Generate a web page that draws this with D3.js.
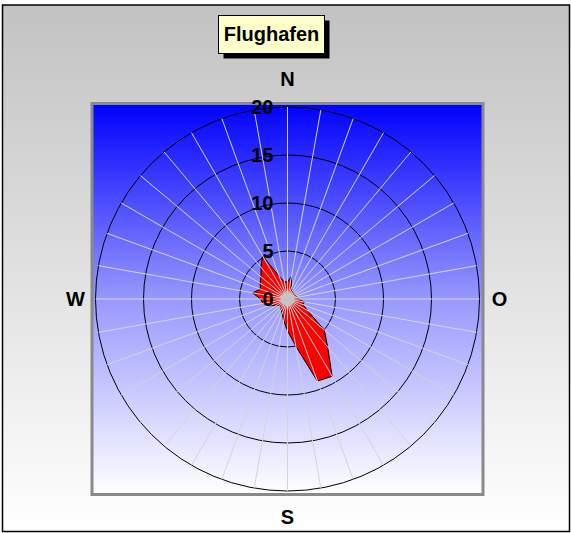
<!DOCTYPE html>
<html><head><meta charset="utf-8">
<script src="https://cdn.jsdelivr.net/npm/d3@7"></script>
<style>body{margin:0;background:#fff}svg{display:block}</style>
</head><body><div id="chart"></div>
<script>
const title = "Flughafen";
const directions = [0,10,20,30,40,50,60,70,80,90,100,110,120,130,140,150,160,170,180,190,200,210,220,230,240,250,260,270,280,290,300,310,320,330,340,350];
const values = [1.8,2.4,1.2,1.0,0.9,0.9,0.9,0.9,1.0,1.1,1.8,1.7,2.4,5.0,6.5,9.3,9.1,5.0,3.3,2.3,1.6,1.3,1.1,1.0,1.3,2.0,2.6,2.8,3.7,3.0,3.3,3.6,4.3,5.2,2.5,1.8];
const radialTicks = [0,5,10,15,20];
const gridCircles = [5,10,15,20];
const compass = [{label:"N",deg:0},{label:"O",deg:90},{label:"S",deg:180},{label:"W",deg:270}];

const W = 571, H = 533;
const svg = d3.select("#chart").append("svg").attr("width", W).attr("height", H);
const defs = svg.append("defs");
const g1 = defs.append("linearGradient").attr("id","outerG").attr("x1",0).attr("y1",0).attr("x2",0).attr("y2",1);
g1.append("stop").attr("offset",0).attr("stop-color","#c2c2c2");
g1.append("stop").attr("offset",1).attr("stop-color","#ffffff");
const g2 = defs.append("linearGradient").attr("id","plotG").attr("x1",0).attr("y1",0).attr("x2",0).attr("y2",1);
g2.append("stop").attr("offset",0).attr("stop-color","#0000ff");
g2.append("stop").attr("offset",0.5).attr("stop-color","#9898ff");
g2.append("stop").attr("offset",1).attr("stop-color","#ffffff");

svg.append("rect").attr("x",2.5).attr("y",5).attr("width",567).attr("height",526.5)
  .attr("fill","url(#outerG)").attr("stroke","#000").attr("stroke-width",1.5);

const cx = 287.5, cy = 299;
const R = 192;
const r = d3.scaleLinear().domain([0,20]).range([0,R]);
const ang = d3.scaleLinear().domain([0,360]).range([0,2*Math.PI]);

// plot area
svg.append("rect").attr("x",cx-R-3.5).attr("y",cy-R-3.5).attr("width",2*R+7).attr("height",2*R+7)
  .attr("fill","url(#plotG)").attr("stroke","#8a8a8a").attr("stroke-width",3);

const g = svg.append("g").attr("transform",`translate(${cx},${cy})`);

g.selectAll("circle.grid").data(gridCircles).join("circle").attr("class","grid")
  .attr("r", d => r(d)).attr("fill","none").attr("stroke","#000").attr("stroke-width",1);

const line = d3.lineRadial()
  .angle((d,i) => ang(directions[i]))
  .radius(d => r(d))
  .curve(d3.curveLinearClosed);
g.append("path").attr("d", line(values)).attr("fill","#ff0000").attr("stroke","#000").attr("stroke-width",1);

g.selectAll("line.spoke").data(directions).join("line").attr("class","spoke")
  .attr("x1",0).attr("y1",0)
  .attr("x2", d => r(20)*Math.sin(ang(d)))
  .attr("y2", d => -r(20)*Math.cos(ang(d)))
  .attr("stroke","#d4d4d4").attr("stroke-width",1);

g.append("circle").attr("r",7).attr("fill","#c4c4c4");

g.selectAll("text.tick").data(radialTicks).join("text").attr("class","tick")
  .attr("x",-14).attr("y", d => -r(d)).attr("dy","0.36em")
  .attr("text-anchor","end").attr("font-family","Liberation Sans, Arial, sans-serif")
  .attr("font-weight","bold").attr("font-size",20).attr("fill","#000")
  .text(d => d);

const lr = 211;
svg.selectAll("text.comp").data(compass).join("text").attr("class","comp")
  .attr("x", d => cx + (d.deg===90||d.deg===270 ? lr+1 : 0)*Math.sin(ang(d.deg)))
  .attr("y", d => cy - (d.deg===0 ? 220 : d.deg===180 ? 218 : 0)*Math.cos(ang(d.deg)))
  .attr("dy","0.36em").attr("text-anchor","middle")
  .attr("font-family","Liberation Sans, Arial, sans-serif").attr("font-weight","bold").attr("font-size",20)
  .text(d => d.label);

// title
svg.append("rect").attr("x",223.5).attr("y",20.5).attr("width",106).attr("height",38).attr("fill","#000");
svg.append("rect").attr("x",218.5).attr("y",15.5).attr("width",106).attr("height",38).attr("fill","#ffffcc").attr("stroke","#000").attr("stroke-width",1);
svg.append("text").attr("x",271.5).attr("y",41).attr("text-anchor","middle")
  .attr("font-family","Liberation Sans, Arial, sans-serif").attr("font-weight","bold").attr("font-size",20)
  .text(title);
</script></body></html>
